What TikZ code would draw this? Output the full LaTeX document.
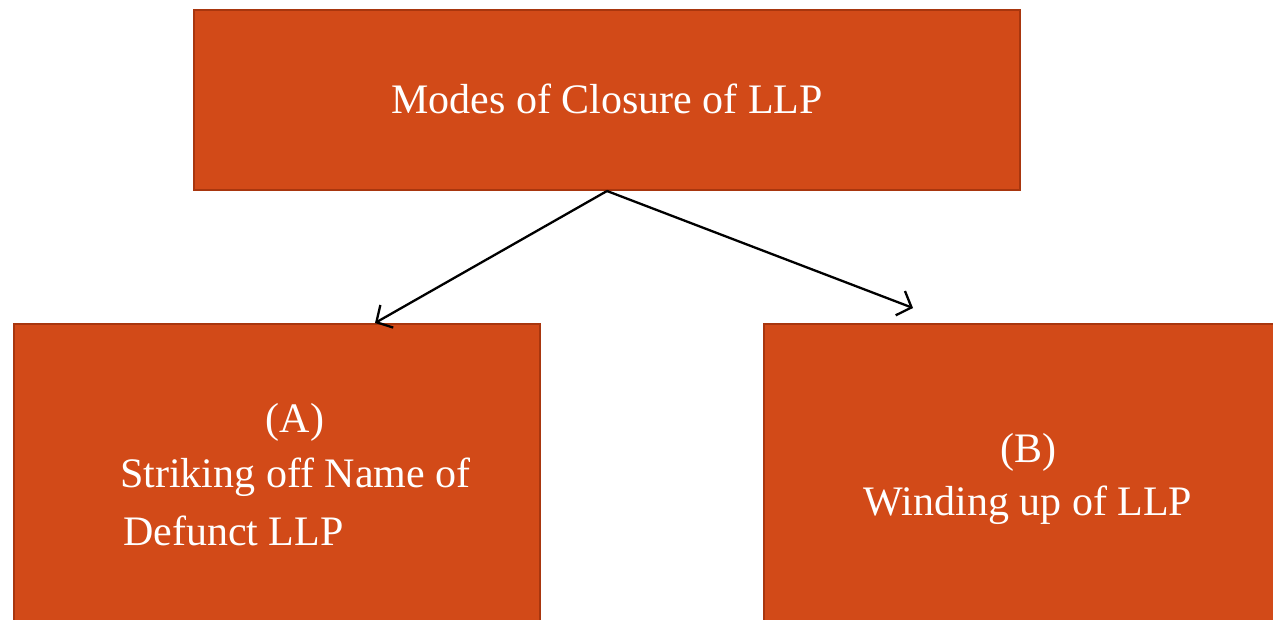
\documentclass[tikz,border=0pt]{standalone}
\usepackage{fontspec}
\setmainfont{Liberation Serif}
\usetikzlibrary{arrows.meta}
\definecolor{boxfill}{RGB}{210,74,24}
\definecolor{boxline}{RGB}{168,54,14}
\begin{document}
\begin{tikzpicture}[x=1pt,y=-1pt,
  box/.style={draw=boxline,fill=boxfill,line width=2pt,inner sep=0pt,rectangle},
  txt/.style={text=white,inner sep=0pt,font=\fontsize{42}{57}\selectfont},
  conn/.style={line width=2.3pt,-{Straight Barb[length=12pt,width=26pt,line width=2.3pt]}}]
\useasboundingbox (0,0) rectangle (1273,620);
\clip (0,0) rectangle (1273,620);
\node[box,minimum width=826pt,minimum height=180pt] (top) at (607,100) {};
\node[box,minimum width=526pt,minimum height=376pt] (left) at (277,512) {};
\node[box,minimum width=526pt,minimum height=376pt] (right) at (1027,512) {};
\node[txt,anchor=base] (ttop) at (607,114) {Modes of Closure of LLP};
\node[txt,anchor=base] (ta) at (295,432) {(A)};
\node[txt,anchor=base west] (ta1) at (120,487) {Striking off Name of};
\node[txt,anchor=base west] (ta2) at (123,545) {Defunct LLP};
\node[txt,anchor=base] (tb) at (1028,462) {(B)};
\node[txt,anchor=base] (tb1) at (1028,515) {Winding up of LLP};
\coordinate (rb) at (913,308);
\draw[conn] (top.south) -- ([xshift=98pt]left.north);
\draw[conn] (top.south) -- (rb);
\end{tikzpicture}
\end{document}
